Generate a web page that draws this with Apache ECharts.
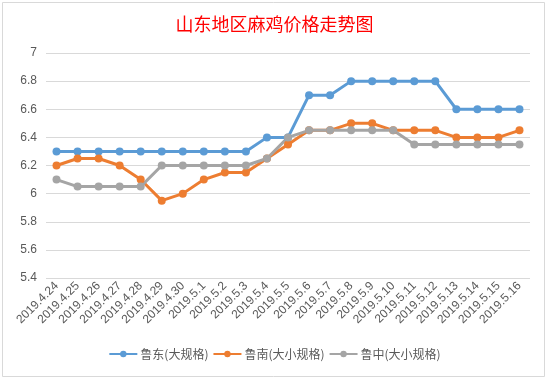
<!DOCTYPE html>
<html><head><meta charset="utf-8">
<script src="https://cdn.jsdelivr.net/npm/echarts@6/dist/echarts.min.js"></script>
<style>html,body{margin:0;padding:0;background:#fff}#c{width:549px;height:379px}</style>
</head><body><div id="c"></div>
<script>
const categories = ['2019.4.24','2019.4.25','2019.4.26','2019.4.27','2019.4.28','2019.4.29','2019.4.30','2019.5.1','2019.5.2','2019.5.3','2019.5.4','2019.5.5','2019.5.6','2019.5.7','2019.5.8','2019.5.9','2019.5.10','2019.5.11','2019.5.12','2019.5.13','2019.5.14','2019.5.15','2019.5.16'];
const ludong = [6.3,6.3,6.3,6.3,6.3,6.3,6.3,6.3,6.3,6.3,6.4,6.4,6.7,6.7,6.8,6.8,6.8,6.8,6.8,6.6,6.6,6.6,6.6];
const lunan = [6.2,6.25,6.25,6.2,6.1,5.95,6.0,6.1,6.15,6.15,6.25,6.35,6.45,6.45,6.5,6.5,6.45,6.45,6.45,6.4,6.4,6.4,6.45];
const luzhong = [6.1,6.05,6.05,6.05,6.05,6.2,6.2,6.2,6.2,6.2,6.25,6.4,6.45,6.45,6.45,6.45,6.45,6.35,6.35,6.35,6.35,6.35,6.35];
const seriesNames = ['鲁东(大规格)','鲁南(大小规格)','鲁中(大小规格)'];
const colors = ['#5B9BD5','#ED7D31','#A5A5A5'];

const chart = echarts.init(document.getElementById('c'));
const mk = (name, data, color) => ({
  name, type:'line', data, color,
  symbol:'circle', symbolSize:8,
  lineStyle:{width:3, color},
  itemStyle:{color},
  emphasis:{disabled:true}
});
chart.setOption({
  animation:false,
  backgroundColor:'#fff',
  title:{text:'山东地区麻鸡价格走势图', left:'center', top:10,
    textStyle:{color:'#FF0000', fontSize:18, fontWeight:'normal', fontFamily:'Noto Sans CJK SC'}},
  graphic:[{type:'rect', shape:{x:2.5,y:2.5,width:542,height:374}, style:{fill:'none', stroke:'#D9D9D9', lineWidth:1}, silent:true}],
  grid:{left:46, right:19, top:53, bottom:101},
  legend:{bottom:14, left:'center', itemWidth:28, itemHeight:8, itemGap:4,
    textStyle:{color:'#595959', fontSize:12, fontFamily:'Noto Sans CJK SC', padding:[0,0,0,-2]}},
  xAxis:{type:'category', data:categories, boundaryGap:true,
    axisLine:{show:false}, axisTick:{show:false},
    axisLabel:{rotate:45, interval:0, color:'#595959', fontSize:12, fontFamily:'Liberation Sans', margin:6}},
  yAxis:{type:'value', min:5.4, max:7, interval:0.2,
    axisLine:{show:false}, axisTick:{show:false},
    axisLabel:{color:'#595959', fontSize:12, fontFamily:'Liberation Sans', margin:9,
      formatter: v => String(Math.round(v*10)/10)},
    splitLine:{lineStyle:{color:'#D9D9D9', width:1}}},
  series:[mk(seriesNames[0], ludong, colors[0]), mk(seriesNames[1], lunan, colors[1]), mk(seriesNames[2], luzhong, colors[2])]
});
</script></body></html>
